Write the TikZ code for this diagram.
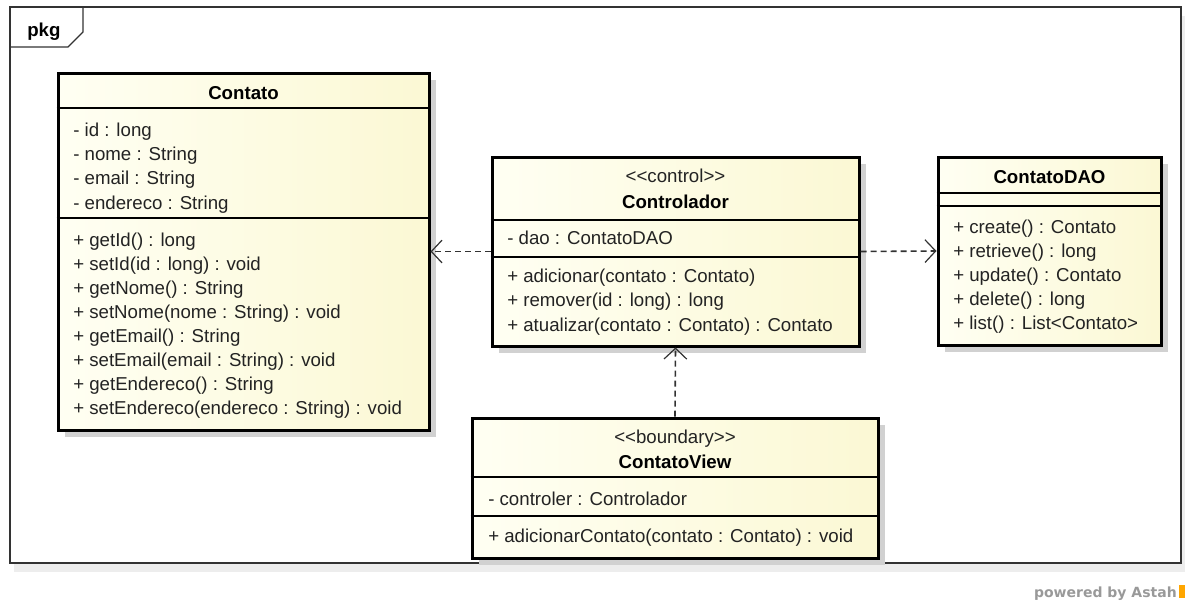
\documentclass[tikz,border=0pt]{standalone}
\usepackage{fontspec}
\newfontfamily\umlfont{Liberation Sans}
\newfontfamily\logofont{DejaVu Sans}
\usepackage{tikz}
\usetikzlibrary{arrows.meta,fit,shadows}
\usepackage{xcolor}
\definecolor{classleft}{RGB}{255,255,243}
\definecolor{classright}{RGB}{251,248,212}
\definecolor{textgray}{RGB}{35,35,35}
\definecolor{linegray}{RGB}{50,50,50}

\begin{document}
\begin{tikzpicture}[x=0.75pt, y=-0.75pt,
    classbox/.style={draw=black, line width=2.25pt, inner sep=0pt, left color=classleft, right color=classright,
        drop shadow={shadow xshift=5pt, shadow yshift=-5pt, fill=black!18, opacity=1}},
    pkgframe/.style={draw=black!80, line width=1pt, inner sep=0pt, fill=white,
        drop shadow={shadow xshift=3pt, shadow yshift=-7pt, fill=black!7, opacity=1}},
    sepline/.style={line width=1.1pt},
    member/.style={anchor=base west, inner sep=0pt, font=\umlfont\fontsize{14}{16}\selectfont, text=textgray},
    stereo/.style={anchor=base, inner sep=0pt, font=\umlfont\fontsize{14}{16}\selectfont, text=textgray},
    classtitle/.style={anchor=base, inner sep=0pt, font=\umlfont\bfseries\fontsize{14}{16}\selectfont, text=black},
    depend/.style={draw=linegray, line width=1.2pt, dash pattern=on 4.5pt off 3pt,
        -{Straight Barb[length=8pt,width=17pt,line width=0.9pt]}}]
    \useasboundingbox (0,0) rectangle (1185,604);

    % Package frame
    \node[pkgframe, fit={(10,7) (1181,563)}] (pkg) {};
    \draw[draw=black!80, line width=1pt] (83,7) -- (83,32) -- (68,47) -- (10,47);
    \node[classtitle, anchor=base west] (pkg-name) at (27,36) {pkg};

    % Contato
    \node[classbox, fit={(58,73) (429,430)}] (contato) {};
    \draw[sepline] (contato.west |- 0,108) -- (contato.east |- 0,108);
    \draw[sepline] (contato.west |- 0,218) -- (contato.east |- 0,218);
    \node[classtitle] (contato-name) at (contato.north |- 0,99) {Contato};
    \foreach \txt [count=\i] in {- id : long, - nome : String, - email : String, - endereco : String}
        \node[member] (contato-att\i) at (73,{136+24.4*(\i-1)}) {\txt};
    \foreach \txt [count=\i] in {+ getId() : long, + setId(id : long) : void, + getNome() : String,
        + setNome(nome : String) : void, + getEmail() : String, + setEmail(email : String) : void,
        + getEndereco() : String, + setEndereco(endereco : String) : void}
        \node[member] (contato-op\i) at (73,{246+24*(\i-1)}) {\txt};

    % Controlador
    \node[classbox, fit={(492,157) (859,346)}] (ctrl) {};
    \draw[sepline] (ctrl.west |- 0,220) -- (ctrl.east |- 0,220);
    \draw[sepline] (ctrl.west |- 0,257) -- (ctrl.east |- 0,257);
    \node[stereo] (ctrl-stereo) at (ctrl.north |- 0,182) {<<control>>};
    \node[classtitle] (ctrl-name) at (ctrl.north |- 0,208) {Controlador};
    \node[member] (ctrl-att1) at (507,244) {- dao : ContatoDAO};
    \foreach \txt [count=\i] in {+ adicionar(contato : Contato), + remover(id : long) : long,
        + atualizar(contato : Contato) : Contato}
        \node[member] (ctrl-op\i) at (507,{282+24.5*(\i-1)}) {\txt};

    % ContatoDAO
    \node[classbox, fit={(938,157) (1161,345)}] (dao) {};
    \draw[sepline] (dao.west |- 0,193) -- (dao.east |- 0,193);
    \draw[sepline] (dao.west |- 0,206) -- (dao.east |- 0,206);
    \node[classtitle] (dao-name) at (dao.north |- 0,183) {ContatoDAO};
    \foreach \txt [count=\i] in {+ create() : Contato, + retrieve() : long, + update() : Contato,
        + delete() : long, + list() : List<Contato>}
        \node[member] (dao-op\i) at (953,{233+24*(\i-1)}) {\txt};

    % ContatoView
    \node[classbox, fit={(472,418) (878,558)}] (view) {};
    \draw[sepline] (view.west |- 0,477) -- (view.east |- 0,477);
    \draw[sepline] (view.west |- 0,516) -- (view.east |- 0,516);
    \node[stereo] (view-stereo) at (view.north |- 0,443) {<<boundary>>};
    \node[classtitle] (view-name) at (view.north |- 0,468) {ContatoView};
    \node[member] (view-att1) at (488,505) {- controler : Controlador};
    \node[member] (view-op1) at (488,542) {+ adicionarContato(contato : Contato) : void};

    % Dependencies
    \draw[depend] (ctrl.west) -- (contato.east);
    \draw[depend] (ctrl.east) -- (dao.west);
    \draw[depend] (view.north) -- (ctrl.south);

    % Footer
    \node[anchor=base east, inner sep=0pt, font=\logofont\bfseries\fontsize{10.5}{12}\selectfont, text=black!40]
        (astah) at (1177,597) {powered by Astah};
    \fill[orange!70!yellow] (1179,585) rectangle (1185,598);
\end{tikzpicture}
\end{document}
